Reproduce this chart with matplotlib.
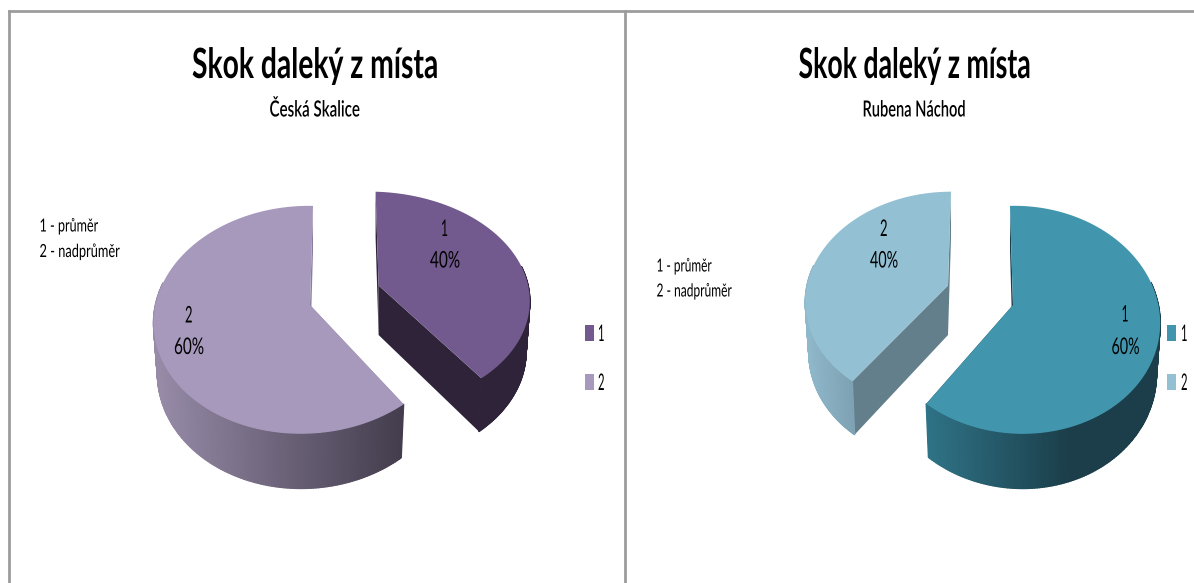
import numpy as np
import matplotlib
matplotlib.use('Agg')
import matplotlib.pyplot as plt
from matplotlib.collections import PolyCollection
from matplotlib.colors import to_rgb
from matplotlib.patheffects import AbstractPathEffect
from matplotlib.transforms import Affine2D

plt.rcParams['font.family'] = ['Lato', 'DejaVu Sans']

# data
title = 'Skok daleký z místa'
subtitles = ['Česká Skalice', 'Rubena Náchod']
categories = ['1', '2']
left_values = [40, 60]
right_values = [60, 40]
note_lines = ['1 - průměr', '2 - nadprůměr']

# colours per slice
left_colors = ['#725a8e', '#a799bc']
right_colors = ['#4196ae', '#93c0d2']

# slice geometry in pixels: apex x, apex y, a, k, p, q, s
left_geom = [(378.6, 285.5, 157, 106, 0.13, 0.05, -3.4),
             (310, 305, 150, 112, 0.13, 0.03, 3.4)]
right_geom = [(1013, 305, 140, 112, 0.13, -0.037, -3.4),
              (948, 285.5, 141, 106, 0.13, 0.0, 3.4)]
# side wall colours: (x0, colour0, x1, colour1), cut face colour
left_walls = [(0, '#2e2338', 1, '#2e2338', '#2e2338'),
              (156, '#978ba8', 403, '#433d4d', '#8a7da0')]
right_walls = [(925, '#2f7487', 1070, '#1b3e4a', '#1b3e4a'),
               (806, '#8fb8ca', 852, '#7ea2b4', '#627f8b')]

DEPTH = 49.5


class Squeeze(AbstractPathEffect):
    # narrows the glyphs sideways, the source chart text is stretched like that
    def __init__(self, sx):
        super().__init__()
        self.sx = sx

    def draw_path(self, renderer, gc, tpath, affine, rgbFace=None):
        renderer.draw_path(gc, tpath, Affine2D().scale(self.sx, 1) + affine, rgbFace)


def rim(t, g, lower=False):
    ax0, ay0, a, k, p, q, s = g
    if lower:
        ay0 = ay0 + DEPTH
        a = a * 0.975
        k = k * 1.04
    u = np.sin(t)
    v = np.cos(t)
    d = 1 + p * v + q * u
    return ax0 + (a * u + s * v) / d, ay0 - k * v / d


def draw_slice(ax, start, stop, g, color, wall):
    t = np.linspace(start, stop, 240)
    xt, yt = rim(t, g)
    xb, yb = rim(t, g, lower=True)

    x0, c0, x1, c1, cut = wall
    c0 = np.array(to_rgb(c0))
    c1 = np.array(to_rgb(c1))

    # the two flat cut faces
    apex_bottom = (g[0], g[1] + DEPTH)
    for i in (0, -1):
        ax.fill([g[0], xt[i], xb[i], apex_bottom[0]],
                [g[1], yt[i], yb[i], apex_bottom[1]], color=cut, lw=0)

    # outer wall, only the front part can be seen
    quads = []
    cols = []
    for i in range(len(t) - 1):
        if np.cos(t[i]) > 0.2 or np.cos(t[i + 1]) > 0.2:
            continue
        quads.append([(xt[i], yt[i]), (xt[i + 1], yt[i + 1]), (xb[i + 1], yb[i + 1]), (xb[i], yb[i])])
        f = np.clip((xt[i] - x0) / (x1 - x0), 0, 1)
        cols.append(c0 + (c1 - c0) * f)
    ax.add_collection(PolyCollection(quads, facecolors=cols, edgecolors=cols, linewidths=1.0))

    ax.fill(np.r_[g[0], xt], np.r_[g[1], yt], color=color, lw=0)


def draw_pie(ax, values, geoms, colors, walls):
    fr = np.cumsum([0] + list(values)) / sum(values) * 2 * np.pi
    for i in range(len(values)):
        draw_slice(ax, fr[i], fr[i + 1], geoms[i], colors[i], walls[i])


def label(ax, x, y, s, size, width, **kw):
    # x = left edge, y = baseline, width = wanted ink width in pixels
    t = ax.text(x, y, s, ha='left', va='baseline', fontsize=size, color='#000000', **kw)
    w = t.get_window_extent(fig.canvas.get_renderer()).width
    t.set_path_effects([Squeeze(width / w)])
    return t


fig = plt.figure(figsize=(11.94, 5.83), dpi=100)
ax = fig.add_axes([0, 0, 1, 1])
ax.set_xlim(0, 1194)
ax.set_ylim(583, 0)
ax.axis('off')

# chart frames
frame = '#9c9c9c'
ax.plot([8.5, 8.5], [10.8, 583], color=frame, lw=2)
ax.plot([8.5, 1194], [10.8, 10.8], color=frame, lw=2)
ax.plot([624.5, 624.5], [10.8, 583], color=frame, lw=2)

draw_pie(ax, left_values, left_geom, left_colors, left_walls)
draw_pie(ax, right_values, right_geom, right_colors, right_walls)

# titles
label(ax, 192, 78, title, 30, 246, fontweight='bold')
label(ax, 798.5, 78, title, 30, 232, fontweight='bold')
label(ax, 269.5, 116.5, subtitles[0], 16, 91, fontweight='semibold')
label(ax, 862.5, 116.5, subtitles[1], 16, 103.5, fontweight='semibold')

# notes
label(ax, 39.5, 231.5, note_lines[0], 13, 58.5)
label(ax, 39.5, 257, note_lines[1], 13, 80)
label(ax, 656.5, 271.5, note_lines[0], 13, 55)
label(ax, 656.5, 296.5, note_lines[1], 13, 75)

# data labels
label(ax, 441, 236, categories[0], 16.5, 7)
label(ax, 430, 267.5, f'{left_values[0]}%', 16.5, 30)
label(ax, 185, 322.5, categories[1], 16.5, 7.5)
label(ax, 174, 354, f'{left_values[1]}%', 16.5, 30)
label(ax, 880, 236, categories[1], 16.5, 7.5)
label(ax, 870, 267.5, f'{right_values[1]}%', 16.5, 28)
label(ax, 1121.5, 321.5, categories[0], 16.5, 7)
label(ax, 1111.5, 354, f'{right_values[0]}%', 16.5, 28)

# legends
for x, tx, cols in [(585, 598, left_colors), (1167, 1181, right_colors)]:
    for y, c, cat in zip([325, 374], cols, categories):
        ax.fill_between([x, x + 9], y, y + 16, color=c, lw=0)
        label(ax, tx, y + 16, cat, 16.5, 6.5)

fig.savefig('out.png', dpi=100)
